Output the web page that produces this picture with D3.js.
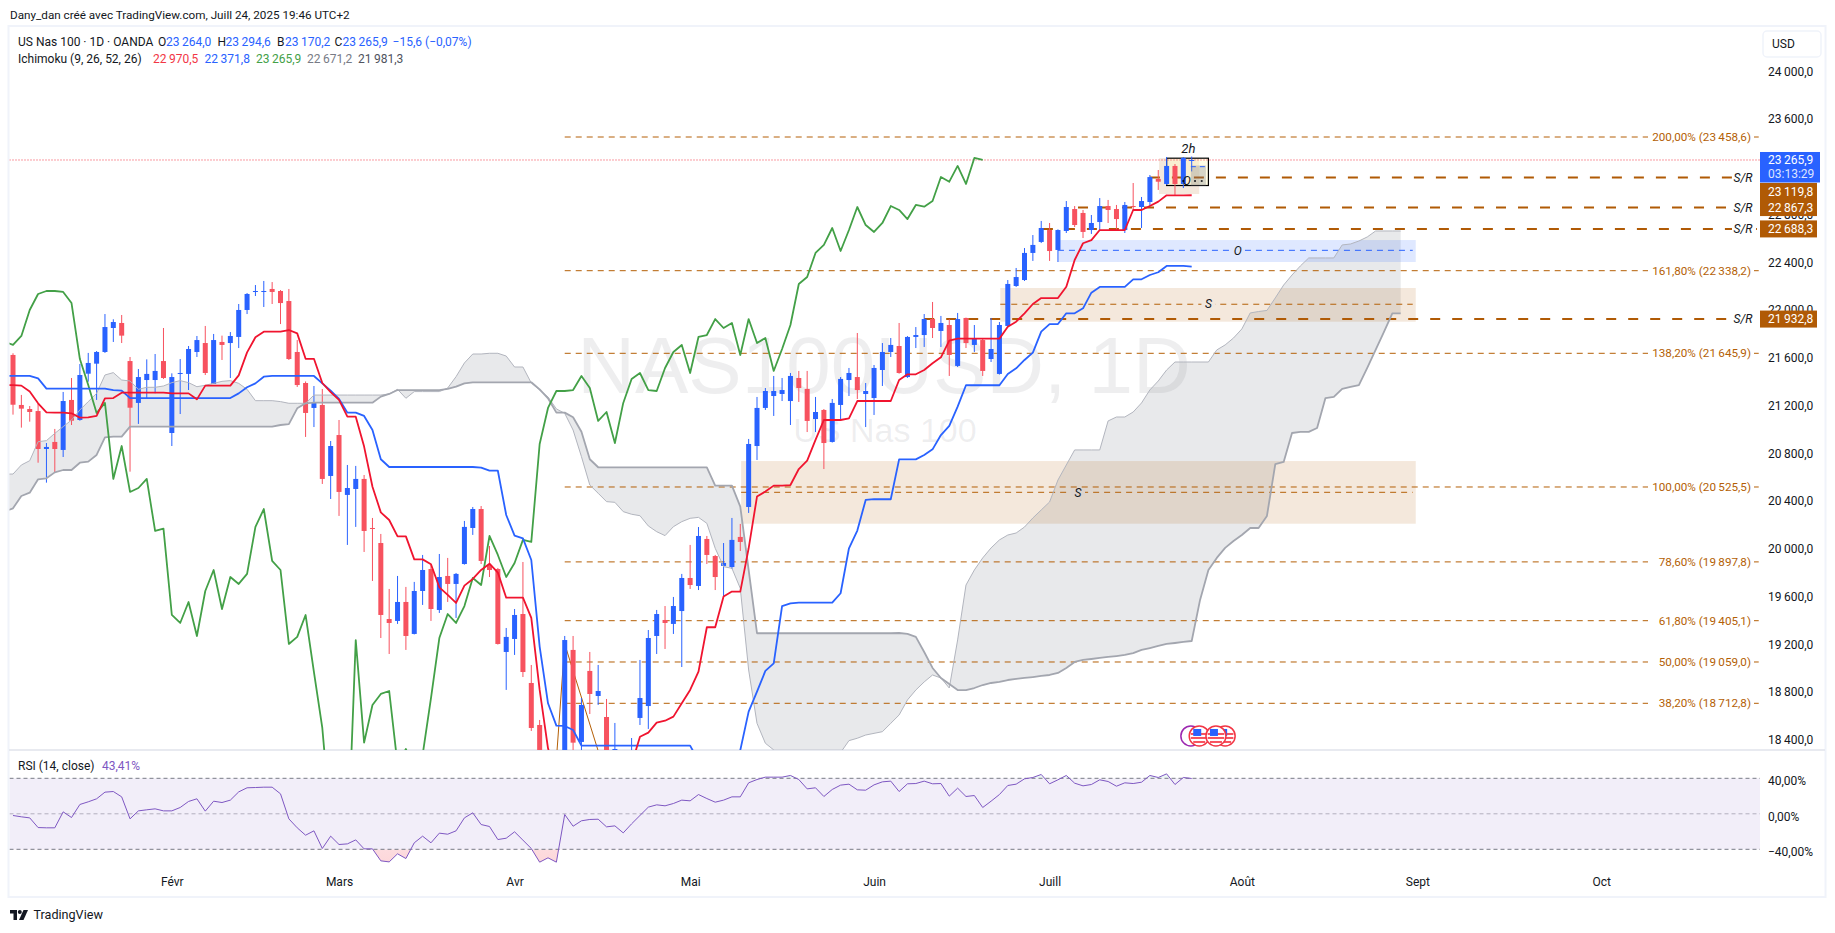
<!DOCTYPE html>
<html lang="fr">
<head>
<meta charset="utf-8">
<title>US Nas 100 1D</title>
<script src="https://d3js.org/d3.v7.min.js"></script>
<style>
  html, body { margin: 0; padding: 0; background: #fff; overflow: hidden; }
  text { font-family: Roboto, "Liberation Sans", sans-serif; font-size: 12px; fill: #131722; }
  .axis text { fill: #131722; font-size: 12px; }
  .srtxt { font-style: italic; }
</style>
</head>
<body>
<script>
// daily bars, first one is bar 0, last one is the 24 July candle
var opens = [21632,21213,21179,21162,20844,20903,20836,21255,21087,21475,
  21559,21657,21858,21900,21581,21230,21422,21422,21581,20978,
  21473,21473,21657,21732,21389,21741,21732,21783,22009,22160,
  22162,22185,22168,22084,21657,21397,21188,21213,20618,20961,
  20459,20509,20593,20182,20056,19419,19403,19562,19294,19654,
  19838,19495,19780,19713,19880,20182,20341,19872,19838,19143,
  19252,19461,18883,18531,17300,18000,17450,19160,18389,18984,
  18774,18598,18000,18300,18100,18590,18690,19277,19411,19378,
  19486,19763,19696,20090,19947,19864,19855,20107,20358,20869,
  21188,21288,21305,21246,21439,21347,21095,21171,20903,21213,
  21422,21447,21305,21271,21506,21657,21707,21447,21783,21799,
  21933,21833,21883,21540,21942,21716,21757,21598,21473,21875,
  22210,22260,22487,22579,22679,22512,22671,22855,22822,22679,
  22746,22880,22855,22679,22880,22872,22914,23107,23065,23216,
  23065,23264];
var highs = [21646,21297,21204,21221,20894,21012,21322,21439,21556,21649,
  21665,21975,21931,21967,21615,21514,21595,21640,21858,21478,
  21598,21707,21791,21875,21808,21794,21824,22059,22151,22218,
  22252,22243,22176,22185,21757,21410,21372,21347,20911,21087,
  20710,20702,20626,20266,20132,19671,19780,19688,19730,19956,
  19872,19964,19931,19805,20241,20358,20366,20031,19847,19344,
  19503,19897,19034,18573,18200,18250,19277,19277,18757,19143,
  19034,18749,18548,18320,18422,19076,19327,19495,19528,19604,
  19797,20040,20190,20115,19956,20056,20266,20216,20928,21280,
  21355,21456,21439,21481,21498,21498,21280,21179,21263,21447,
  21523,21816,21397,21548,21732,21774,21900,21790,21866,21975,
  22076,21959,21933,21984,21945,21883,21774,21942,21908,22260,
  22361,22528,22637,22755,22738,22685,22922,22880,22847,22805,
  22947,22931,22889,22914,23073,22956,23140,23182,23291,23232,
  23291,23294.6];
var lows = [21132,21023,21073,20729,20562,20648,20777,21045,21081,21408,
  21255,21649,21741,21732,20654,21054,21269,21311,21431,20869,
  21137,21338,21615,21464,21389,21590,21439,21690,21975,22126,
  22034,22059,21891,21590,21364,20945,21028,20551,20425,20283,
  20040,20191,19981,19738,19260,19126,19378,19160,19290,19537,
  19403,19470,19562,19428,19875,20124,19880,19771,19205,18825,
  19118,18933,18481,17600,16950,17200,17150,18150,18260,18623,
  18699,18100,17950,18000,18000,18531,18498,19126,19168,19294,
  19017,19671,19662,19880,19662,19612,19838,19989,20308,20752,
  21171,21121,21246,21045,21238,20986,20986,20676,20898,21087,
  21288,21263,21028,21129,21372,21615,21475,21440,21690,21699,
  21774,21699,21456,21531,21690,21657,21456,21573,21468,21870,
  22202,22252,22420,22570,22420,22411,22654,22704,22612,22646,
  22679,22738,22679,22654,22847,22696,22880,23015,23056,22973,
  23031,23170.2];
var closes = [21215,21182,21154,20844,20861,20844,21246,21081,21464,21565,
  21657,21866,21908,21794,21190,21447,21473,21498,21439,21447,
  21481,21682,21757,21481,21757,21716,21791,22009,22143,22168,
  22168,22160,22067,21598,21380,21146,21230,20593,20869,20484,
  20517,20593,20157,20177,19453,19386,19562,19277,19654,19830,
  19503,19771,19713,19797,20191,20341,19906,19830,19210,19269,
  19453,18975,18506,17700,17450,17400,19243,18383,18699,18791,
  18816,18200,18330,18150,18280,18757,19260,19461,19386,19528,
  19763,19704,20115,19956,19771,19889,20082,20065,20886,21188,
  21330,21330,21338,21456,21355,21079,21154,20894,21230,21431,
  21481,21338,21330,21523,21657,21716,21481,21783,21799,21933,
  21858,21900,21632,21933,21732,21774,21498,21682,21883,22227,
  22285,22487,22554,22696,22503,22679,22872,22721,22663,22738,
  22880,22847,22771,22889,22875,22922,23123,23084,23216,23065,
  23283,23265.9];

// ichimoku, all start one bar before bar 0 (runs off the left edge)
var tenkan = [21380,21380,21375,21325,21227,21151,21148,21148,21143,21107,21109,
  21121,21269,21271,21316,21316,21316,21316,21316,21316,21310,21310,21310,21260,
  21375,21375,21375,21375,21461,21654,21780,21827,21827,21827,21841,21813,21600,
  21600,21397,21320,21255,21115,21115,20864,20528,20313,20249,20112,20112,19919,
  19919,19878,19685,19621,19554,19699,19755,19830,19883,19808,19598,19598,19598,
  19428,18825,18336,18100,18000,18000,18000,18000,18000,18000,18000,18000,18200,
  18433,18467,18551,18567,18601,18713,18825,18978,19350,19350,19607,19649,19649,
  20012,20445,20487,20537,20537,20542,20676,20746,20920,21087,21087,21087,21101,
  21246,21246,21246,21246,21246,21422,21470,21470,21506,21562,21612,21752,21769,
  21769,21769,21769,21769,21769,21869,21911,21981,22059,22109,22109,22109,22204,
  22428,22568,22595,22679,22679,22679,22679,22847,22847,22880,22917,22970,22970,
  22970,22970.5];
var kijun = [21456,21456,21456,21456,21436,21350,21350,21350,21350,21350,21350,
  21350,21350,21338,21333,21271,21271,21271,21271,21271,21271,21271,21271,21271,
  21271,21271,21271,21271,21310,21361,21394,21450,21456,21456,21456,21456,21456,
  21456,21394,21333,21263,21149,21149,21121,21003,20758,20693,20693,20693,20693,
  20693,20693,20693,20693,20693,20693,20693,20688,20662,20662,20291,20118,20095,
  19914,19188,18713,18526,18523,18489,18358,18358,18358,18358,18358,18358,18358,
  18358,18358,18358,18358,18358,18358,18358,18230,18230,18230,18230,18230,18320,
  18643,18811,18984,19048,19528,19551,19556,19556,19556,19556,19556,19635,20012,
  20160,20417,20423,20423,20423,20757,20757,20757,20794,20841,20961,21037,21199,
  21378,21378,21378,21378,21378,21472,21520,21590,21651,21827,21891,21891,21981,
  21981,22023,22154,22202,22202,22202,22202,22266,22266,22302,22325,22378,22378,
  22378,22371.8];
var chikou = [21743,21716,21791,22009,22143,22168,22168,22160,22067,21598,21380,
  21146,21230,20593,20869,20484,20517,20593,20157,20177,19453,19386,19562,19277,
  19654,19830,19503,19771,19713,19797,20191,20341,19906,19830,19210,19269,19453,
  18975,18506,17700,17450,17400,19243,18383,18699,18791,18816,18200,18330,18150,
  18280,18757,19260,19461,19386,19528,19763,19704,20115,19956,19771,19889,20082,
  20065,20886,21188,21330,21330,21338,21456,21355,21079,21154,20894,21230,21431,
  21481,21338,21330,21523,21657,21716,21481,21783,21799,21933,21858,21900,21632,
  21933,21732,21774,21498,21682,21883,22227,22285,22487,22554,22696,22503,22679,
  22872,22721,22663,22738,22880,22847,22771,22889,22875,22922,23123,23084,23216,
  23065,23283,23265.9];
var senkouA = [20634,20634,20710,20746,20905,20914,20975,21031,21087,21171,21241,
  21310,21464,21484,21422,21414,21344,21361,21361,21372,21400,21417,21400,21366,
  21378,21394,21411,21417,21394,21344,21249,21249,21249,21241,21227,21227,21227,
  21296,21296,21296,21296,21296,21296,21296,21296,21296,21305,21344,21269,21325,
  21325,21325,21325,21355,21450,21565,21640,21640,21646,21646,21623,21531,21531,
  21397,21338,21280,21180,21143,21003,20780,20542,20473,20403,20397,20319,20297,
  20285,20199,20151,20118,20193,20235,20263,20271,20221,20012,19858,19844,19676,
  18992,18545,18378,18322,18230,18230,18230,18230,18230,18230,18230,18300,18400,
  18420,18447,18461,18475,18545,18615,18741,18824,18892,18950,18925,18841,19244,
  19704,19830,19931,20015,20082,20123,20140,20190,20266,20333,20400,20584,20710,
  20836,20836,20836,20836,21079,21112,21112,21154,21230,21339,21414,21506,21573,
  21573,21573,21573,21573,21674,21716,21774,21850,21984,21996,22005,22110,22218,
  22302,22378,22445,22445,22445,22445,22554,22562,22587,22621,22671,22671,22671,22671];
var senkouB = [20319,20347,20450,20478,20590,20598,20648,20668,20668,20729,20738,
  20794,20942,20947,20947,21031,21031,21031,21031,21031,21031,21031,21031,21031,
  21031,21031,21031,21031,21031,21031,21031,21031,21031,21045,21053,21185,21227,
  21232,21232,21232,21232,21232,21232,21232,21232,21283,21305,21338,21338,21338,
  21338,21338,21338,21347,21366,21394,21403,21403,21403,21403,21403,21403,21403,
  21403,21344,21269,21149,21149,21110,20989,20758,20691,20690,20690,20690,20690,
  20690,20690,20690,20690,20690,20690,20690,20690,20690,20537,20537,20537,20361,
  19830,19300,19300,19300,19300,19300,19300,19300,19300,19300,19300,19300,19300,
  19300,19300,19300,19300,19300,19302,19294,19269,19143,19009,18925,18875,18824,
  18824,18841,18866,18883,18892,18908,18917,18925,18933,18942,18950,18967,19009,
  19059,19076,19084,19093,19101,19109,19118,19134,19160,19176,19193,19210,19218,
  19227,19235,19579,19830,19931,20015,20073,20123,20182,20182,20283,20718,20735,
  20978,20987,20987,21020,21271,21280,21347,21364,21380,21523,21674,21825,21981,21981];

var rsi = [-1.9,-3.4,-4.6,-15.5,-15.8,-15.8,2.2,-4.2,10.5,13.5,16.9,24.4,25.1,19.1,-5.7,3.3,4.5,5.6,3.3,3.3,
  7.1,13.9,16.9,3,14.2,12.7,15.4,24.7,29.3,29.6,30,30,22.5,-5.7,-15.8,-24.1,-19.2,-39.1,-25.2,-34.6,
  -33.9,-29.4,-39.5,-39.5,-53,-54.2,-45.1,-50.4,-32.7,-25.2,-32.7,-21.8,-23,-19.2,-4.6,1.1,-12.1,-14.3,-29,-27.5,
  -20.3,-29.7,-39.1,-54.5,-49.6,-54.5,-0.8,-14,-7.9,-6.4,-6.1,-14.7,-13.6,-21.5,-11.3,-1.9,7.5,10.1,9,11.6,
  15.4,14.6,21.7,17.2,13.1,15.4,19.1,19.1,34.9,38.6,41.3,41.3,41.3,43.2,38.6,28.1,29.3,19.5,27.4,32.3,
  33.4,27,26.6,32.6,36,36.8,25.1,33.8,34.1,36.8,33.8,34.1,19.9,28.9,19.5,20.6,7.1,14.2,21.7,31.9,
  33.4,39.4,40.9,44.3,33.8,38.3,43.2,34.5,31.5,33,38.3,36.4,31.1,34.9,34.1,35.6,43.2,40.9,45,33,40.9,39.8];

// 23 200 sits fully behind the blue price tag so it is left out
var priceTicks = [18400,18800,19200,19600,20000,20400,20800,21200,21600,22000,22400,22800,23600,24000];
var rsiTicks = [40,0,-40];
var monthBars = [19,39,60,81,103,124,147,168,190];
var monthNames = ["Févr","Mars","Avr","Mai","Juin","Juill","Août","Sept","Oct"];

var fibPct = ["200,00%","161,80%","138,20%","100,00%","78,60%","61,80%","50,00%","38,20%"];
var fibPrice = [23458.6,22338.2,21645.9,20525.5,19897.8,19405.1,19059.0,18712.8];
var srPrice = [23119.8,22867.3,22688.3,21932.8];
var srStartBar = [136,127.4,123.2,109];
var zoneNames = ["S","S","O","",""];
var zoneTop = [20743,22193,22595,23281,23281];
var zoneBottom = [20218,21911,22411,22981,23052];
var zoneMid = [20481,22057,22509];
var zoneStart = [87.1,118.1,125,137.1,138];
var zoneEnd = [167.8,167.8,167.8,141.9,143];
var fibLegBars = [65,66,71];
var fibLegPrices = [18240,19210,18090];

var width = 1835, height = 933;
var paneLeft = 9.5, paneRight = 1760, paneTop = 27, paneBottom = 750, rsiBottom = 896;
var brown = "#B05A05", fibBrown = "#B45F06", upCol = "#2962FF", downCol = "#F7525F";

var svg = d3.select("body").append("svg")
  .attr("width", width).attr("height", height)
  .style("display", "block");

var x = d3.scaleLinear().domain([0, 141]).range([13, 1191.7]);
var y = d3.scaleLinear().domain([23458.6, 18712.8]).range([137, 703.3]);
var yRsi = d3.scaleLinear().domain([40, -40]).range([778.3, 849.3]);

// number format used by the chart: thin space thousands, comma decimal
function fmt(v) {
  var s = v.toFixed(1).replace(".", ",");
  return s.slice(0, s.length - 5) + "\u2009" + s.slice(s.length - 5);
}

var defs = svg.append("defs");
defs.append("clipPath").attr("id", "mainClip").append("rect")
  .attr("x", paneLeft).attr("y", paneTop)
  .attr("width", paneRight - paneLeft).attr("height", paneBottom - paneTop);
defs.append("clipPath").attr("id", "rsiClip").append("rect")
  .attr("x", paneLeft).attr("y", paneBottom)
  .attr("width", paneRight - paneLeft).attr("height", rsiBottom - paneBottom);
defs.append("clipPath").attr("id", "rsiLowClip").append("rect")
  .attr("x", paneLeft).attr("y", yRsi(-40))
  .attr("width", paneRight - paneLeft).attr("height", 40);
defs.append("clipPath").attr("id", "rsiHighClip").append("rect")
  .attr("x", paneLeft).attr("y", yRsi(40) - 30)
  .attr("width", paneRight - paneLeft).attr("height", 30);
var grad = defs.append("linearGradient").attr("id", "lowGrad")
  .attr("x1", 0).attr("y1", 0).attr("x2", 0).attr("y2", 1);
grad.append("stop").attr("offset", "0%").attr("stop-color", "#F23645").attr("stop-opacity", 0.02);
grad.append("stop").attr("offset", "100%").attr("stop-color", "#F23645").attr("stop-opacity", 0.2);

// frame
svg.append("rect")
  .attr("x", 8.5).attr("y", 26).attr("width", 1817).attr("height", 871)
  .attr("fill", "none").attr("stroke", "#F0F3FA").attr("stroke-width", 2);
svg.append("line")
  .attr("x1", 9).attr("x2", 1825).attr("y1", paneBottom).attr("y2", paneBottom)
  .attr("stroke", "#E0E3EB").attr("stroke-width", 1.5);

var main = svg.append("g").attr("clip-path", "url(#mainClip)");

// watermark
main.append("text").attr("x", 884).attr("y", 393).attr("text-anchor", "middle")
  .style("font-family", "'Liberation Sans', Arial, sans-serif").style("font-size", "80px")
  .style("fill", "#787B86").style("fill-opacity", 0.13).text("NAS100USD, 1D");
main.append("text").attr("x", 885).attr("y", 442).attr("text-anchor", "middle")
  .style("font-family", "'Liberation Sans', Arial, sans-serif").style("font-size", "34px")
  .style("fill", "#787B86").style("fill-opacity", 0.13).text("US Nas 100");

// kumo
var cloudIdx = d3.range(-1, 167);
var cloud = d3.area()
  .x(function (d) { return x(d); })
  .y0(function (d) { return y(senkouA[d + 1]); })
  .y1(function (d) { return y(senkouB[d + 1]); });
main.append("path").datum(cloudIdx).attr("d", cloud)
  .attr("fill", "#787B86").attr("fill-opacity", 0.17);

// zones
var zoneIdx = d3.range(zoneTop.length);
var zoneFill = ["#B45F06", "#B45F06", "#2962FF", "#B45F06", "#FFF9C4"];
var zoneOp = [0.14, 0.14, 0.15, 0.14, 0.45];
main.selectAll(".zone").data(zoneIdx).enter().append("rect")
  .attr("class", "zone")
  .attr("x", function (d) { return x(zoneStart[d]); })
  .attr("width", function (d) { return x(zoneEnd[d]) - x(zoneStart[d]); })
  .attr("y", function (d) { return y(zoneTop[d]); })
  .attr("height", function (d) { return y(zoneBottom[d]) - y(zoneTop[d]); })
  .attr("fill", function (d) { return zoneFill[d]; })
  .attr("fill-opacity", function (d) { return zoneOp[d]; })
  .attr("stroke", function (d) { return d == 4 ? "#000" : "none"; })
  .attr("stroke-width", 1.2);
main.selectAll(".zmid").data(zoneMid).enter().append("line")
  .attr("x1", function (d, i) { return x(zoneStart[i]); })
  .attr("x2", function (d, i) { return x(zoneEnd[i]) - 3; })
  .attr("y1", function (d) { return y(d); })
  .attr("y2", function (d) { return y(d); })
  .attr("stroke", function (d, i) { return i == 2 ? upCol : fibBrown; })
  .attr("stroke-width", 1).attr("stroke-dasharray", "6,5");
var zoneLabelBar = [127.4,143,146.5];
var zoneLabelBack = ["#DCD3CD","#F2E7DD","#DFE7FD"];
main.selectAll(".zback").data(zoneMid).enter().append("rect")
  .attr("x", function (d, i) { return x(zoneLabelBar[i]) - 7; })
  .attr("width", 14)
  .attr("y", function (d) { return y(d) - 3; }).attr("height", 6)
  .attr("fill", function (d, i) { return zoneLabelBack[i]; });
main.selectAll(".zlab").data(zoneMid).enter().append("text")
  .attr("class", "srtxt")
  .attr("x", function (d, i) { return x(zoneLabelBar[i]); })
  .attr("y", function (d) { return y(d); })
  .attr("dy", "0.35em").attr("text-anchor", "middle")
  .style("fill", "#131722")
  .text(function (d, i) { return zoneNames[i]; });

// fibonacci retracement
main.selectAll(".fib").data(fibPrice).enter().append("line")
  .attr("x1", x(66)).attr("x2", paneRight)
  .attr("y1", function (d) { return y(d); })
  .attr("y2", function (d) { return y(d); })
  .attr("stroke", fibBrown).attr("stroke-width", 1).attr("stroke-dasharray", "6,5");
var fibLeg = d3.line()
  .x(function (d) { return x(d); })
  .y(function (d, i) { return y(fibLegPrices[i]); });
main.append("path").datum(fibLegBars).attr("d", fibLeg)
  .attr("fill", "none").attr("stroke", fibBrown).attr("stroke-width", 1);

// support / resistance
main.selectAll(".sr").data(srPrice).enter().append("line")
  .attr("x1", function (d, i) { return x(srStartBar[i]); })
  .attr("x2", paneRight)
  .attr("y1", function (d) { return y(d); })
  .attr("y2", function (d) { return y(d); })
  .attr("stroke", brown).attr("stroke-width", 2).attr("stroke-dasharray", "10,12");

// last price
main.append("line")
  .attr("x1", paneLeft).attr("x2", paneRight)
  .attr("y1", y(closes[141])).attr("y2", y(closes[141]))
  .attr("stroke", "#F23645").attr("stroke-width", 1).attr("stroke-dasharray", "1,2");

// candles
var bars = d3.range(opens.length);
var candle = main.selectAll(".bar").data(bars).enter().append("g").attr("class", "bar");
candle.append("line")
  .attr("x1", function (d) { return x(d); }).attr("x2", function (d) { return x(d); })
  .attr("y1", function (d) { return y(highs[d]); })
  .attr("y2", function (d) { return y(lows[d]); })
  .attr("stroke", function (d) { return closes[d] >= opens[d] ? upCol : downCol; })
  .attr("stroke-width", 1);
candle.append("rect")
  .attr("x", function (d) { return x(d) - 2.5; }).attr("width", 5)
  .attr("y", function (d) { return y(Math.max(opens[d], closes[d])); })
  .attr("height", function (d) { return Math.max(1, Math.abs(y(opens[d]) - y(closes[d]))); })
  .attr("fill", function (d) { return closes[d] >= opens[d] ? upCol : downCol; });

// ichimoku lines
function drawLine(values, col, w) {
  var l = d3.line()
    .x(function (d, i) { return x(i - 1); })
    .y(function (d) { return y(d); });
  main.append("path").datum(values).attr("d", l)
    .attr("fill", "none").attr("stroke", col).attr("stroke-width", w)
    .attr("stroke-linejoin", "round");
}
drawLine(senkouA, "#B2B5BE", 1);
drawLine(senkouB, "#A3A6AF", 1.8);
drawLine(chikou, "#43A047", 1.8);
drawLine(kijun, "#2962FF", 1.8);
drawLine(tenkan, "#F0142F", 1.8);

// 2h box content
var boxDots = [140, 141.4, 142.2];
main.selectAll(".bdot").data(boxDots).enter().append("circle")
  .attr("cx", function (d) { return x(d); }).attr("cy", y(23090)).attr("r", 1.1).attr("fill", "#000");
main.append("rect")
  .attr("x", x(140.9)).attr("width", x(142.7) - x(140.9))
  .attr("y", y(23220)).attr("height", y(23050) - y(23220))
  .attr("fill", "#787B86").attr("fill-opacity", 0.3);
main.append("line")
  .attr("x1", x(140.9)).attr("x2", x(142.7)).attr("y1", y(23210)).attr("y2", y(23210))
  .attr("stroke", upCol).attr("stroke-dasharray", "5,4");
main.append("text").attr("class", "srtxt").attr("x", x(140.4)).attr("y", y(23090))
  .attr("dy", "0.35em").attr("text-anchor", "middle").text("O");
main.append("text").attr("class", "srtxt").attr("x", x(140.6)).attr("y", y(23365))
  .attr("dy", "0.35em").attr("text-anchor", "middle").style("font-size", "13px").text("2h");

// news flags at the bottom of the pane
var flagBars = [140.9, 141.9, 143.9, 145];
var flagCol = ["#9C27B0", "#F23645", "#F23645", "#F23645"];
var flagPrice = 18439;
var flagOrder = [3, 0, 1, 2];
flagOrder.forEach(function (k) {
  var g = main.append("g").attr("transform", "translate(" + x(flagBars[k]) + "," + y(flagPrice) + ")");
  g.append("circle").attr("r", 10).attr("fill", "#fff").attr("stroke", flagCol[k]).attr("stroke-width", 1.5);
  if (k > 0) {
    [-3, 1, 5].forEach(function (s) {
      var half = Math.sqrt(Math.max(0, 72 - (s + 1) * (s + 1)));
      g.append("rect").attr("x", -half).attr("width", half * 2).attr("y", s).attr("height", 2).attr("fill", "#F7525F");
    });
    g.append("rect").attr("x", -6).attr("y", -7).attr("width", 8).attr("height", 7).attr("fill", "#2962FF");
  }
});

// fib labels on the right
var fibLab = svg.selectAll(".fiblab").data(fibPrice).enter().append("g").attr("class", "fiblab");
fibLab.append("rect")
  .attr("x", 1648).attr("width", 106)
  .attr("y", function (d) { return y(d) - 8; }).attr("height", 16)
  .attr("fill", "#fff").attr("fill-opacity", 1);
fibLab.append("text")
  .attr("x", 1751).attr("text-anchor", "end")
  .attr("y", function (d) { return y(d); }).attr("dy", "0.35em")
  .style("fill", fibBrown).style("font-size", "11.7px")
  .text(function (d, i) { return fibPct[i] + " (" + fmt(d) + ")"; });

// S/R tags
var srLab = svg.selectAll(".srlab").data(srPrice).enter().append("g").attr("class", "srlab");
srLab.append("rect")
  .attr("x", 1732).attr("width", 24)
  .attr("y", function (d) { return y(d) - 8; }).attr("height", 16)
  .attr("fill", "#fff");
srLab.append("text").attr("class", "srtxt")
  .attr("x", 1743).attr("text-anchor", "middle")
  .attr("y", function (d) { return y(d); }).attr("dy", "0.35em")
  .text("S/R");

// price axis
var yAxis = d3.axisRight(y).tickValues(priceTicks).tickSize(0).tickPadding(8).tickFormat(fmt);
svg.append("g").attr("class", "axis").attr("transform", "translate(" + paneRight + ",-1)")
  .call(yAxis).call(function (g) { g.select(".domain").remove(); });

// price tags
var srTags = svg.selectAll(".tag").data(srPrice).enter().append("g").attr("class", "tag");
srTags.append("rect")
  .attr("x", paneRight).attr("width", 57)
  .attr("y", function (d) { return y(d) - 8.5; }).attr("height", 17)
  .attr("fill", brown);
srTags.append("text")
  .attr("x", paneRight + 8).attr("y", function (d) { return y(d); }).attr("dy", "0.35em")
  .style("fill", "#fff").text(function (d) { return fmt(d); });
// first tag is pushed down so it sits under the countdown
srTags.filter(function (d, i) { return i == 0; }).attr("transform", "translate(0,14)");

svg.append("rect").attr("x", paneRight).attr("y", y(closes[141]) - 8).attr("width", 60).attr("height", 30.5)
  .attr("fill", upCol);
svg.append("text").attr("x", paneRight + 8).attr("y", y(closes[141])).attr("dy", "0.35em")
  .style("fill", "#fff").text(fmt(closes[141]));
svg.append("text").attr("x", paneRight + 8).attr("y", y(closes[141]) + 14).attr("dy", "0.35em")
  .style("fill", "#fff").style("fill-opacity", 0.85).text("03:13:29");

// USD button
svg.append("rect").attr("x", 1763).attr("y", 31).attr("width", 58).attr("height", 26).attr("rx", 4)
  .attr("fill", "#fff").attr("stroke", "#F0F3FA").attr("stroke-width", 1.5);
svg.append("text").attr("x", 1772).attr("y", 44).attr("dy", "0.35em").text("USD");

// rsi pane
var rsiG = svg.append("g").attr("clip-path", "url(#rsiClip)");
rsiG.append("rect").attr("x", paneLeft).attr("width", paneRight - paneLeft)
  .attr("y", yRsi(40)).attr("height", yRsi(-40) - yRsi(40))
  .attr("fill", "#7E57C2").attr("fill-opacity", 0.1);
var lowArea = d3.area()
  .x(function (d, i) { return x(i); })
  .y0(yRsi(-40))
  .y1(function (d) { return yRsi(d); });
rsiG.append("path").datum(rsi).attr("d", lowArea)
  .attr("clip-path", "url(#rsiLowClip)").attr("fill", "url(#lowGrad)");
rsiG.append("path").datum(rsi)
  .attr("d", d3.area().x(function (d, i) { return x(i); }).y0(yRsi(40)).y1(function (d) { return yRsi(d); }))
  .attr("clip-path", "url(#rsiHighClip)").attr("fill", "#089981").attr("fill-opacity", 0.08);
rsiG.selectAll(".band").data(rsiTicks).enter().append("line")
  .attr("x1", paneLeft).attr("x2", paneRight)
  .attr("y1", function (d) { return yRsi(d); })
  .attr("y2", function (d) { return yRsi(d); })
  .attr("stroke", function (d) { return d == 0 ? "#B2AEBE" : "#787B86"; })
  .attr("stroke-width", 1).attr("stroke-dasharray", "4,3");
rsiG.append("path").datum(rsi)
  .attr("d", d3.line().x(function (d, i) { return x(i); }).y(function (d) { return yRsi(d); }))
  .attr("fill", "none").attr("stroke", "#7E57C2").attr("stroke-width", 1);

var rsiAxis = d3.axisRight(yRsi).tickValues(rsiTicks).tickSize(0).tickPadding(8)
  .tickFormat(function (d) { return (d < 0 ? "\u2212" + (-d) : d) + ",00%"; });
svg.append("g").attr("class", "axis").attr("transform", "translate(" + paneRight + ",2.5)")
  .call(rsiAxis).call(function (g) { g.select(".domain").remove(); });

// time axis
var xAxis = d3.axisBottom(x).tickValues(monthBars).tickSize(0).tickPadding(0)
  .tickFormat(function (d, i) { return monthNames[i]; });
svg.append("g").attr("class", "axis").attr("transform", "translate(0,877)")
  .call(xAxis).call(function (g) { g.select(".domain").remove(); });

// header + legends
function putText(str, px, py, col) {
  return svg.append("text").attr("x", px).attr("y", py).attr("dy", "0.35em")
    .style("fill", col || "#131722").text(str);
}
putText("Dany_dan créé avec TradingView.com, Juill 24, 2025 19:46 UTC+2", 10, 15).style("font-size", "11.7px");
putText("US Nas 100 · 1D · OANDA", 18, 41.5);
var ohlcHead = ["O","H","B","C"];
var ohlcVal = [23264.0,23294.6,23170.2,23265.9];
var ohlcX = [158,217.5,277,334.5];
ohlcHead.forEach(function (h, i) {
  putText(h, ohlcX[i], 41.5);
  putText(fmt(ohlcVal[i]), ohlcX[i] + 8, 41.5, upCol);
});
putText("\u221215,6 (\u22120,07%)", 392.6, 41.5, upCol);
putText("Ichimoku (9, 26, 52, 26)", 18, 59);
var ichiVal = [22970.5,22371.8,23265.9,22671.2,21981.3];
var ichiCol = ["#F23645","#2962FF","#43A047","#787B86","#50535E"];
var ichiX = [153,204.6,256,307,358];
ichiVal.forEach(function (v, i) { putText(fmt(v), ichiX[i], 59, ichiCol[i]); });
putText("RSI (14, close)", 18, 765.5);
putText("43,41%", 102, 765.5, "#7E57C2");

// logo
var logo = svg.append("g").attr("transform", "translate(10,910)").attr("fill", "#131722");
logo.append("path").attr("d", "M0 0H7V10H3.5V3.5H0Z");
logo.append("circle").attr("cx", 9.8).attr("cy", 2).attr("r", 2);
logo.append("path").attr("d", "M13.5 0H18L13.5 10H9Z");
putText("TradingView", 33.5, 915).style("font-size", "12.6px");
</script>
</body>
</html>
